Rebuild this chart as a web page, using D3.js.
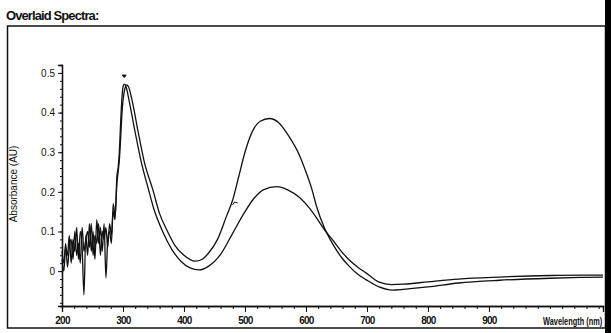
<!DOCTYPE html>
<html><head><meta charset="utf-8">
<script src="https://cdn.jsdelivr.net/npm/d3@7"></script>
<style>
html,body{margin:0;padding:0;background:#fff;}
svg{display:block;}
text{font-family:"Liberation Sans",Arial,sans-serif;fill:#111;}
</style></head>
<body>
<svg id="chart" width="611" height="333"></svg>
<script>
// ---- data ----
const noiseWl = [200,203,206,209,212,215,218,221,224,227,230,233,236,239,242,245,248,251,254,257,260,263,266,269,272,275,278,281,284,287];
const noiseA = [0.03,0.0,0.06,0.04,0.09,0.02,0.08,0.05,0.11,0.03,0.10,0.06,-0.06,0.09,0.04,0.12,0.05,0.10,0.03,0.13,0.07,0.11,0.05,0.12,-0.017,0.08,0.10,0.07,0.17,0.14];
const noiseB = [0.05,0.02,0.07,0.01,0.06,0.08,0.03,0.10,0.04,0.07,0.02,0.11,0.05,0.08,0.10,0.06,0.12,0.04,0.09,0.07,0.12,0.04,0.10,0.08,0.11,0.06,0.12,0.09,0.15,0.13];

const wlA = [290,292,294,296,298,300,303,306,309,315,325,335,349,360,373,385,400,418,430,440,455,470,480,490,500,513,525,540,555,570,590,600,610,617,630,644,658,671,685,699,720,742,760,800,850,917,1000,1050,1087];
const valA = [0.22,0.25,0.28,0.33,0.39,0.43,0.46,0.47,0.465,0.43,0.35,0.275,0.205,0.145,0.10,0.065,0.04,0.025,0.03,0.045,0.08,0.14,0.18,0.24,0.30,0.355,0.378,0.385,0.375,0.345,0.29,0.25,0.205,0.165,0.11,0.068,0.035,0.012,-0.008,-0.022,-0.04,-0.048,-0.046,-0.04,-0.03,-0.023,-0.018,-0.016,-0.015];

const wlB = [290,292,294,296,298,300,302,305,310,320,330,342,350,365,380,395,410,425,440,460,480,500,513,530,552,570,590,605,617,630,644,658,671,685,699,720,740,760,800,850,917,1000,1050,1087];
const valB = [0.24,0.26,0.30,0.37,0.43,0.465,0.472,0.465,0.43,0.35,0.275,0.205,0.16,0.10,0.055,0.025,0.008,0.003,0.012,0.042,0.096,0.15,0.18,0.205,0.213,0.205,0.185,0.16,0.135,0.105,0.078,0.05,0.028,0.01,-0.005,-0.028,-0.034,-0.033,-0.027,-0.02,-0.015,-0.011,-0.01,-0.01];

const xTicks = [200,300,400,500,600,700,800,900];
const yTicks = [0,0.1,0.2,0.3,0.4,0.5];
const markers = [{wl:302, v:0.492, type:"down"},{wl:483, v:0.172, type:"hook"}];

// ---- build ----
const svg = d3.select("#chart");
const x = d3.scaleLinear().domain([200,1087]).range([62,603]);
const y = d3.scaleLinear().domain([-0.088,0.52]).range([306,65]);

// frame
svg.append("rect").attr("x",7.5).attr("y",26).attr("width",598).attr("height",302)
  .attr("fill","none").attr("stroke","#111").attr("stroke-width",1.5);
svg.append("text").attr("x",6).attr("y",20).attr("font-size",13).attr("font-weight","bold")
  .attr("letter-spacing",-0.9).text("Overlaid Spectra:");

// axes
const xAxis = d3.axisBottom(x).tickValues(xTicks).tickFormat(d3.format("d")).tickSize(6).tickPadding(5);
const xMinor = d3.axisBottom(x).tickValues(d3.range(200,1087,20)).tickFormat("").tickSize(3);
const gx = svg.append("g").attr("transform","translate(0,306)");
gx.call(xMinor); gx.append("g").call(xAxis);
gx.selectAll("text").attr("font-size",10).attr("font-weight","bold").attr("letter-spacing",-0.8).attr("fill","#111");

const yAxis = d3.axisLeft(y).tickValues(yTicks).tickFormat(d=>d===0?"0":d3.format(".1f")(d)).tickSize(4).tickPadding(3);
const yMinor = d3.axisLeft(y).tickValues(d3.range(-0.08,0.521,0.02)).tickFormat("").tickSize(2);
const gy = svg.append("g").attr("transform","translate(62,0)");
gy.call(yMinor); gy.append("g").call(yAxis);
gy.selectAll("text").attr("font-size",10).attr("fill","#111");
svg.selectAll(".domain").attr("stroke","#111").attr("stroke-width",1.3);
svg.selectAll(".tick line").attr("stroke","#111");

svg.append("text").attr("transform","translate(17,184) rotate(-90)").attr("text-anchor","middle")
  .attr("font-size",10).text("Absorbance (AU)");
svg.append("text").attr("transform","translate(543,325) scale(0.74,1)").attr("font-size",10).attr("font-weight","bold")
  .text("Wavelength (nm)");

// lines
const line = d3.line().x(d=>x(d[0])).y(d=>y(d[1])).curve(d3.curveMonotoneX);
const seriesA = noiseWl.map((w,i)=>[w,noiseA[i]]).concat(wlA.map((w,i)=>[w,valA[i]]));
const seriesB = noiseWl.map((w,i)=>[w,noiseB[i]]).concat(wlB.map((w,i)=>[w,valB[i]]));
[seriesA,seriesB].forEach(s=>{
  svg.append("path").datum(s).attr("d",line).attr("fill","none").attr("stroke","#111").attr("stroke-width",1.3);
});

// small markers
markers.forEach(m=>{
  const px=x(m.wl), py=y(m.v);
  const d = m.type==="down" ? `M${px-2},${py-1}L${px+2},${py-1}L${px},${py+1.5}Z` : `M${px-2},${py+2}L${px},${py-1}L${px+3},${py}`;
  svg.append("path").attr("d",d).attr("fill",m.type==="down"?"#111":"none").attr("stroke","#111").attr("stroke-width",1);
});

// right edge black bar (scan edge)
svg.append("rect").attr("x",605).attr("y",0).attr("width",6).attr("height",333).attr("fill","#000");
</script>
</body></html>
